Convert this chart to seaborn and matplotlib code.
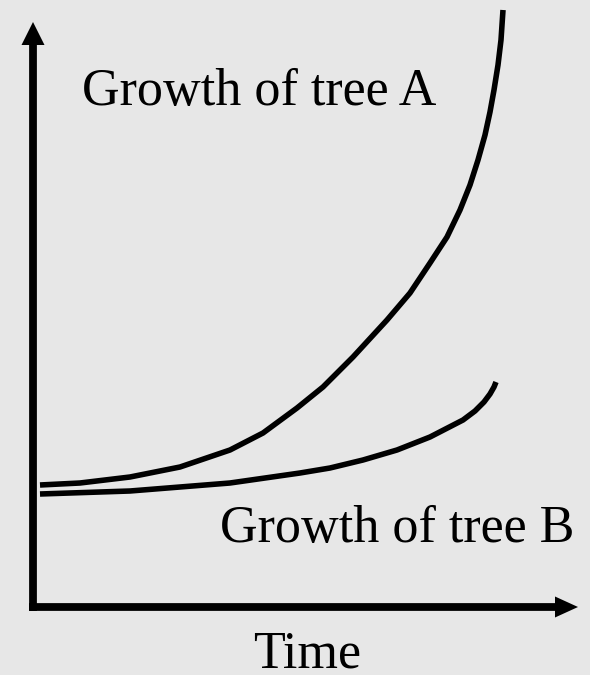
import matplotlib
matplotlib.use("Agg")
import matplotlib.pyplot as plt
import numpy as np
import pandas as pd
import seaborn as sns

# Growth curves (time, size) for the two trees
time_a = [7, 47, 97, 147, 197, 230, 264, 290, 320, 354, 377, 397, 414,
          427, 437, 445, 452, 457, 461, 465, 468, 470]
size_a = [122, 124, 130, 140, 157, 174, 199, 220, 250, 287, 314, 344, 370,
          397, 422, 447, 472, 495, 517, 542, 567, 597]

time_b = [7, 97, 197, 267, 297, 330, 364, 397, 430, 442, 451, 457, 461, 463]
size_b = [113, 116, 124, 134, 139, 147, 157, 170, 187, 196, 205, 213, 220, 225]

label_a = "Growth of tree A"
label_b = "Growth of tree B"
x_label = "Time"

sns.set_theme(style="white")
plt.rcParams["font.family"] = ["Liberation Serif", "DejaVu Serif"]

bg = "#e7e7e7"
fig = plt.figure(figsize=(5.9, 6.75), dpi=100, facecolor=bg)
ax = fig.add_axes([0, 0, 1, 1])
ax.set_facecolor(bg)
ax.set_xlim(-33, 557)
ax.set_ylim(-68, 607)
ax.set_axis_off()

df = pd.concat([
    pd.DataFrame({"time": time_a, "size": size_a, "tree": "A"}),
    pd.DataFrame({"time": time_b, "size": size_b, "tree": "B"}),
])
sns.lineplot(data=df, x="time", y="size", units="tree", estimator=None,
             sort=False, color="black", linewidth=4.0, ax=ax, legend=False)
for ln in ax.lines:
    ln.set_solid_capstyle("butt")
    ln.set_solid_joinstyle("round")

# Axes with arrowheads
axis_lw = 5.6
ax.plot([0, 0], [-4, 562], color="black", lw=axis_lw, solid_capstyle="butt")
ax.plot([-4, 522], [0, 0], color="black", lw=axis_lw, solid_capstyle="butt")
ax.fill([-11.5, 11.5, 0], [562, 562, 585], color="black", lw=0)
ax.fill([522, 522, 545], [-10.5, 10.5, 0], color="black", lw=0)

fs = 37.5
ax.text(49, 502, label_a, fontsize=fs, ha="left", va="baseline", color="black")
ax.text(187, 65, label_b, fontsize=fs, ha="left", va="baseline", color="black")
ax.text(274, -61, x_label, fontsize=fs, ha="center", va="baseline", color="black")

fig.savefig("out.png", dpi=100, facecolor=bg)
